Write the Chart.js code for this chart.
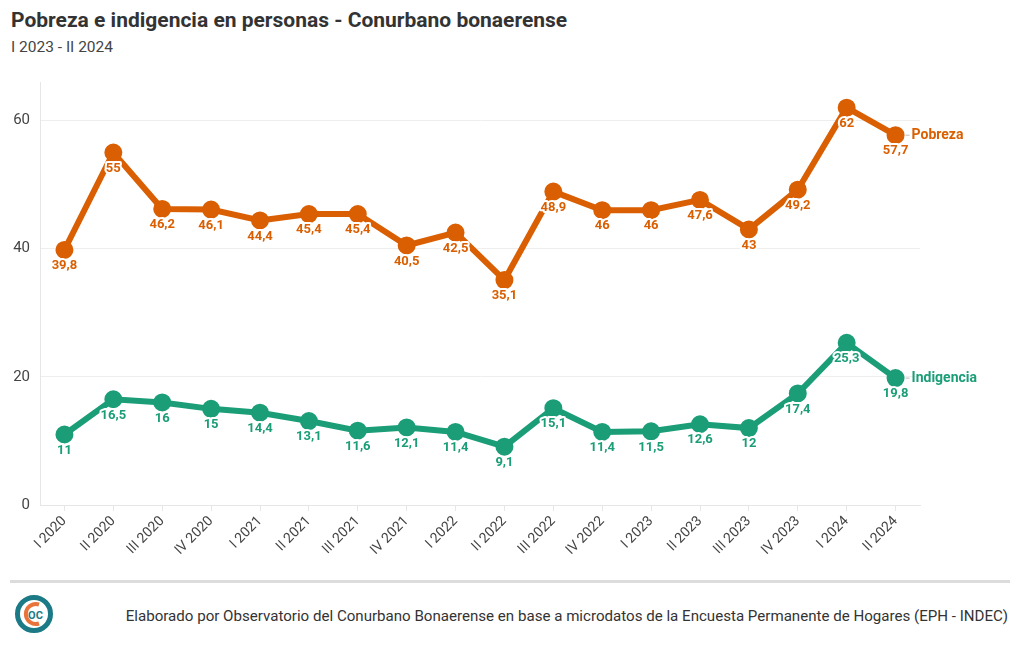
<!DOCTYPE html>
<html>
<head>
<meta charset="utf-8">
<script src="https://cdn.jsdelivr.net/npm/chart.js@4/dist/chart.umd.min.js"></script>
<style>
  body { margin: 0; background: #fff; font-family: "Roboto", sans-serif; color: #333; }
  #page { position: relative; width: 1020px; height: 650px; overflow: hidden; }
  #title { position: absolute; left: 11px; top: 8px; font-size: 21px; font-weight: 700; color: #333; }
  #subtitle { position: absolute; left: 11px; top: 38px; font-size: 15.5px; color: #444; }
  #wrap { position: absolute; left: 0; top: 63px; width: 1020px; height: 507px; }
  #rule { position: absolute; left: 10px; top: 580px; width: 1000px; height: 3px; background: #dcdcdc; }
  #logo { position: absolute; left: 14px; top: 594px; }
  #source { position: absolute; right: 12px; top: 607px; font-size: 15.1px; color: #333; }
</style>
</head>
<body>
<div id="page">
  <div id="title">Pobreza e indigencia en personas - Conurbano bonaerense</div>
  <div id="subtitle">I 2023 - II 2024</div>
  <div id="wrap"><canvas id="chart"></canvas></div>
  <div id="rule"></div>
  <svg id="logo" width="40" height="40" viewBox="0 0 40 40">
    <circle cx="20" cy="20" r="16.5" fill="none" stroke="#1b7a86" stroke-width="5"/>
    <path d="M 25 10.5 A 10 10 0 1 0 25 29.5" fill="none" stroke="#e8743b" stroke-width="4"/>
    <text x="21.5" y="24.5" font-family="Roboto" font-weight="700" font-size="11" fill="#1b7a86" text-anchor="middle">OC</text>
  </svg>
  <div id="source">Elaborado por Observatorio del Conurbano Bonaerense en base a microdatos de la Encuesta Permanente de Hogares (EPH - INDEC)</div>
</div>
<script>
const periods = ["I 2020", "II 2020", "III 2020", "IV 2020", "I 2021", "II 2021", "III 2021", "IV 2021",
  "I 2022", "II 2022", "III 2022", "IV 2022", "I 2023", "II 2023", "III 2023", "IV 2023", "I 2024", "II 2024"];
const pobreza = [39.8, 55, 46.2, 46.1, 44.4, 45.4, 45.4, 40.5, 42.5, 35.1, 48.9, 46, 46, 47.6, 43, 49.2, 62, 57.7];
const indigencia = [11, 16.5, 16, 15, 14.4, 13.1, 11.6, 12.1, 11.4, 9.1, 15.1, 11.4, 11.5, 12.6, 12, 17.4, 25.3, 19.8];
const yTicks = [0, 20, 40, 60];

const ORANGE = "#d95f02";
const GREEN = "#1b9e77";

// value labels under each point + series name at the end of the line
const labelsPlugin = {
  id: "labels",
  afterDatasetsDraw(chart) {
    const ctx = chart.ctx;
    ctx.save();
    chart.data.datasets.forEach((ds, i) => {
      const pts = chart.getDatasetMeta(i).data;
      ctx.font = "700 13px Roboto";
      ctx.textAlign = "center";
      ctx.textBaseline = "middle";
      ctx.lineJoin = "round";
      pts.forEach((p, j) => {
        const txt = String(ds.data[j]).replace(".", ",");
        ctx.lineWidth = 4;
        ctx.strokeStyle = "#fff";
        ctx.strokeText(txt, p.x, p.y + 16);
        ctx.fillStyle = ds.borderColor;
        ctx.fillText(txt, p.x, p.y + 16);
      });
      const last = pts[pts.length - 1];
      ctx.strokeStyle = "#bbb";
      ctx.lineWidth = 1;
      ctx.beginPath();
      ctx.moveTo(last.x + 10, last.y);
      ctx.lineTo(last.x + 14, last.y);
      ctx.stroke();
      ctx.font = "700 14px Roboto";
      ctx.textAlign = "left";
      ctx.fillStyle = ds.borderColor;
      ctx.fillText(ds.label, last.x + 16, last.y);
    });
    ctx.restore();
  }
};

new Chart(document.getElementById("chart"), {
  type: "line",
  data: {
    labels: periods,
    datasets: [
      { label: "Pobreza", data: pobreza, borderColor: ORANGE, backgroundColor: ORANGE,
        borderWidth: 6, pointRadius: 6, pointHoverRadius: 6, tension: 0 },
      { label: "Indigencia", data: indigencia, borderColor: GREEN, backgroundColor: GREEN,
        borderWidth: 6, pointRadius: 6, pointHoverRadius: 6, tension: 0 }
    ]
  },
  options: {
    responsive: true,
    maintainAspectRatio: false,
    animation: false,
    layout: { padding: { top: 6, right: 100, left: 0, bottom: 0 } },
    plugins: { legend: { display: false }, tooltip: { enabled: false } },
    scales: {
      x: {
        offset: true,
        grid: { drawOnChartArea: false, drawTicks: true, tickLength: 6, color: "#e6e6e6" },
        border: { display: true, color: "#e6e6e6" },
        ticks: { maxRotation: 45, minRotation: 45, color: "#444", font: { family: "Roboto", size: 14 }, padding: 2 },
        afterFit: s => { s.height = 65; }
      },
      y: {
        min: 0,
        max: 66,
        grid: { color: "#eeeeee", drawTicks: false },
        border: { display: true, color: "#e6e6e6" },
        ticks: { stepSize: 20, color: "#444", font: { family: "Roboto", size: 15 }, padding: 10 },
        afterBuildTicks: s => { s.ticks = yTicks.map(v => ({ value: v })); },
        afterFit: s => { s.width = 40; }
      }
    }
  },
  plugins: [labelsPlugin]
});
</script>
</body>
</html>
